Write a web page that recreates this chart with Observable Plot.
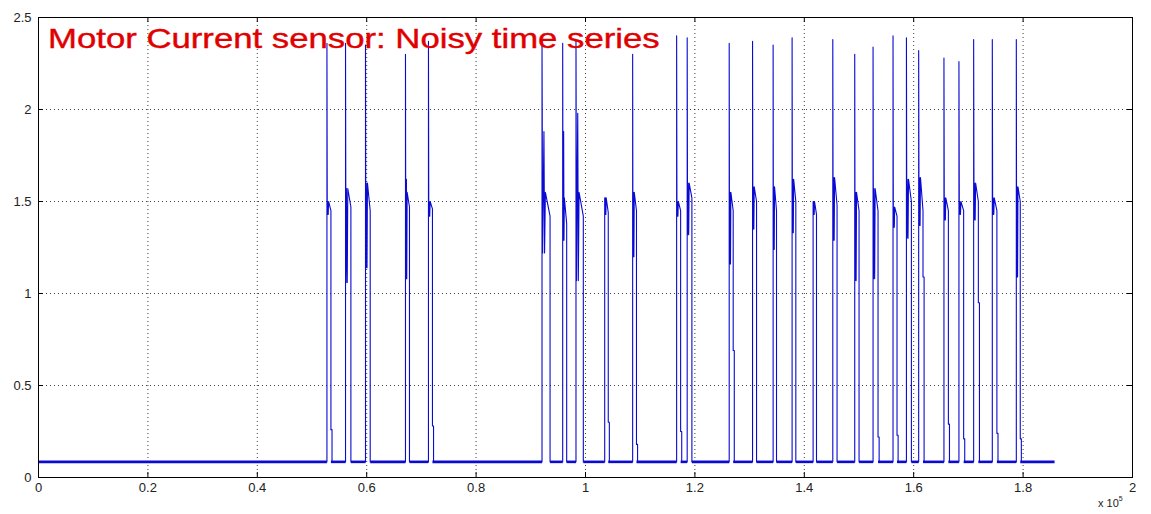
<!DOCTYPE html>
<html>
<head>
<meta charset="utf-8">
<script src="https://cdn.jsdelivr.net/npm/d3@7"></script>
<script src="https://cdn.jsdelivr.net/npm/@observablehq/plot@0.6"></script>
<style>
  html, body { margin: 0; padding: 0; background: #fff; }
  #chart { position: relative; width: 1151px; height: 514px; }
  #title { position: absolute; left: 48px; top: 22px; font: 28px "Liberation Sans", Arial, sans-serif; color: #e00000; white-space: nowrap; transform: scaleX(1.24); transform-origin: 0 0; line-height: 34px; -webkit-text-stroke: 0.4px #e00000; }
  #exp { position: absolute; left: 1098px; top: 496px; font: 11px "Liberation Sans", Arial, sans-serif; color: #222; }
  #exp sup { font-size: 7px; position: relative; top: -1px; }
</style>
</head>
<body>
<div id="chart"><div id="title"></div><div id="exp">x 10<sup>5</sup></div></div>
<script>
// ---- data (x in samples, y in sensor units) ----
const titleText = "Motor Current sensor: Noisy time series";
const xTicks = [0, 20000, 40000, 60000, 80000, 100000, 120000, 140000, 160000, 180000, 200000];
const yTicks = [0, 0.5, 1, 1.5, 2, 2.5];
const baselineLevel = 0.085;
const seriesEnd = 185750;

const riseX = [52730, 56130, 59780, 67090, 71290, 92050, 95830, 98260, 103510, 108620,
               116660, 118590, 126270, 130540, 134300, 137770, 141610, 145210, 149220, 152570,
               156220, 158670, 160910, 165530, 168270, 170960, 174370, 178760];
const fallX = [53460, 57110, 60640, 67820, 72020, 93520, 96560, 99600, 104160, 109320,
               117390, 119450, 127000, 131270, 134920, 138450, 142230, 145990, 150010, 153480,
               156950, 159580, 161700, 166340, 169130, 171820, 175210, 179480];
const spikePeak = [2.36, 2.36, 2.35, 2.30, 2.37, 2.37, 2.36, 2.38, 1.52, 2.30,
                   2.40, 2.39, 2.36, 2.37, 2.35, 2.39, 1.50, 2.38, 2.30, 2.34,
                   2.40, 2.39, 2.32, 2.28, 2.26, 2.38, 2.38, 2.38];
const secondPeak = [null, null, null, 1.62, null, 1.88, 1.88, 1.98, null, null,
                    null, null, null, null, null, null, null, null, null, null,
                    null, null, null, null, null, null, null, null];
const plateauHigh = [1.50, 1.57, 1.60, 1.55, 1.50, 1.55, 1.52, 1.55, 1.52, 1.55,
                     1.50, 1.60, 1.55, 1.58, 1.58, 1.62, 1.50, 1.63, 1.55, 1.57,
                     1.47, 1.62, 1.63, 1.52, 1.50, 1.60, 1.52, 1.58];
const plateauLow = [1.43, 1.06, 1.14, 1.08, 1.42, 1.22, 1.29, 1.07, 1.43, 1.20,
                    1.42, 1.32, 1.16, 1.35, 1.24, 1.33, 1.43, 1.29, 1.07, 1.08,
                    1.36, 1.30, 1.37, 1.40, 1.43, 1.40, 1.43, 1.09];
const plateauEnd = [1.45, 1.47, 1.45, 1.47, 1.46, 1.42, 1.38, 1.42, 1.44, 1.45,
                    1.45, 1.52, 1.45, 1.50, 1.45, 1.50, 1.43, 1.48, 1.45, 1.45,
                    1.42, 1.50, 1.45, 1.45, 1.45, 1.50, 1.45, 1.50];
const fallStep = [0.26, null, null, null, 0.28, null, null, null, 0.30, 0.18,
                  0.25, null, 0.69, null, null, null, null, null, null, 0.22,
                  0.23, null, 1.09, 0.29, 0.21, 0.95, 0.24, 0.21];

// ---- build the polyline of the pulses from the arrays above ----
const pulsePoints = [];
riseX.forEach((r, i) => {
  const f = fallX[i], w = f - r, id = i;
  const p = (x, y) => pulsePoints.push({x, y, id});
  p(r, baselineLevel);
  p(r, spikePeak[i]);
  p(r + w * 0.08, plateauLow[i]);
  p(r + w * 0.16, plateauHigh[i]);
  if (secondPeak[i] != null) p(r + w * 0.24, secondPeak[i]);
  p(r + w * 0.32, plateauLow[i]);
  p(r + w * 0.42, plateauHigh[i]);
  p(f, plateauEnd[i]);
  if (fallStep[i] != null) { p(f, fallStep[i]); p(f + 200, fallStep[i]); p(f + 200, baselineLevel); }
  else p(f, baselineLevel);
});
const gaps = [];
const starts = [0, ...fallX], ends = [...riseX, seriesEnd];
starts.forEach((s, i) => gaps.push({x1: s, x2: ends[i]}));

document.getElementById("title").textContent = titleText;

const lineColor = "#0a0ad2";
const plot = Plot.plot({
  width: 1151, height: 514,
  marginLeft: 38, marginRight: 19, marginTop: 17, marginBottom: 37,
  style: {fontFamily: '"Liberation Sans", Arial, sans-serif', background: "#fff"},
  x: {domain: [0, 200000], ticks: xTicks, label: null},
  y: {domain: [0, 2.5], ticks: yTicks, label: null},
  marks: [
    Plot.gridX(xTicks, {stroke: "#000", strokeOpacity: 0.75, strokeDasharray: "1,3"}),
    Plot.gridY(yTicks, {stroke: "#000", strokeOpacity: 0.75, strokeDasharray: "1,3"}),
    Plot.link(gaps, {x1: "x1", x2: "x2", y1: () => baselineLevel, y2: () => baselineLevel, stroke: lineColor, strokeWidth: 2.6}),
    Plot.line(pulsePoints, {x: "x", y: "y", z: "id", stroke: lineColor, strokeWidth: 1.1, curve: "linear"}),
    Plot.tickX(xTicks, {x: d => d, insetTop: 455, stroke: "#000"}),
    Plot.tickX(xTicks, {x: d => d, insetBottom: 455, stroke: "#000"}),
    Plot.tickY(yTicks, {y: d => d, insetRight: 1089, stroke: "#000"}),
    Plot.tickY(yTicks, {y: d => d, insetLeft: 1089, stroke: "#000"}),
    Plot.frame({stroke: "#000"}),
    Plot.axisX(xTicks, {tickSize: 0, tickPadding: 5, tickFormat: d => d / 1e5, fontSize: 13, fill: "#222", label: null}),
    Plot.axisY(yTicks, {tickSize: 0, tickPadding: 7, tickFormat: d => d, fontSize: 13, fill: "#222", label: null})
  ]
});
document.getElementById("chart").prepend(plot);
</script>
</body>
</html>
